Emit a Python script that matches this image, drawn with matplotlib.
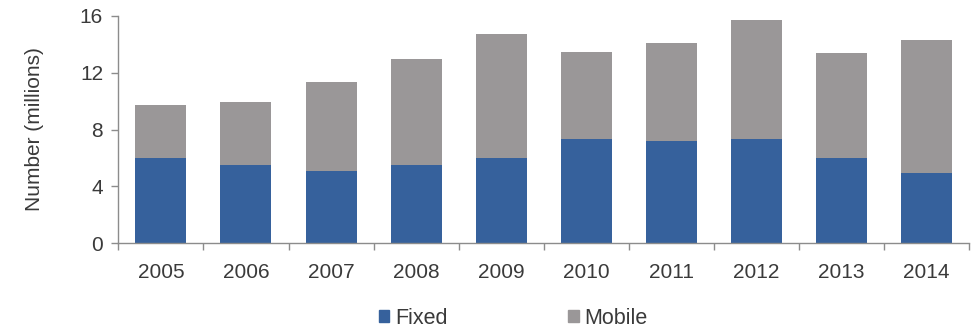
import numpy as np
import matplotlib.pyplot as plt
from matplotlib.patches import Patch

years = ['2005', '2006', '2007', '2008', '2009', '2010', '2011', '2012', '2013', '2014']
fixed = [6.03, 5.47, 5.09, 5.47, 6.03, 7.35, 7.16, 7.35, 6.03, 4.93]
total = [9.72, 9.95, 11.31, 12.98, 14.72, 13.42, 14.10, 15.68, 13.40, 14.32]
mobile = [t - f for t, f in zip(total, fixed)]

blue = '#36619c'
grey = '#9a9798'
axis_grey = '#8c8c8c'
text_col = '#3a3a3a'

plt.rcParams['font.family'] = ['Liberation Sans', 'DejaVu Sans']

fig = plt.figure(figsize=(9.77, 3.3), dpi=100)
ax = fig.add_axes([0.1211, 0.2627, 0.8710, 0.6897])

x = np.arange(len(years))
ax.bar(x, fixed, width=0.6, color=blue, label='Fixed')
ax.bar(x, mobile, width=0.6, bottom=fixed, color=grey, label='Mobile')

ax.set_xlim(-0.5, len(years) - 0.5)
ax.set_ylim(0, 16)
ax.set_yticks([0, 4, 8, 12, 16])

# category labels centred, tick marks on the boundaries
ax.set_xticks(x)
ax.set_xticklabels(years)
ax.set_xticks(np.arange(-0.5, len(years)), minor=True)
ax.tick_params(axis='x', which='major', length=0, pad=14, labelsize=15, colors=text_col)
ax.tick_params(axis='x', which='minor', length=5, width=1, color=axis_grey, direction='out')
ax.tick_params(axis='y', length=5, width=1, color=axis_grey, labelsize=15, labelcolor=text_col, pad=6)

for side in ['top', 'right']:
    ax.spines[side].set_visible(False)
for side in ['left', 'bottom']:
    ax.spines[side].set_color(axis_grey)
    ax.spines[side].set_linewidth(1)

ax.set_ylabel('Number (millions)', fontsize=15, color=text_col, labelpad=26)

handles = [Patch(color=blue, label='Fixed'), Patch(color=grey, label='Mobile')]
fig.legend(handles=handles, loc='center', bbox_to_anchor=(0.525, 0.036), ncol=2,
           frameon=False, fontsize=15.5, handlelength=0.5, handleheight=0.5,
           handletextpad=0.25, columnspacing=5.6, labelcolor=text_col)

fig.savefig('out.png', dpi=100)
